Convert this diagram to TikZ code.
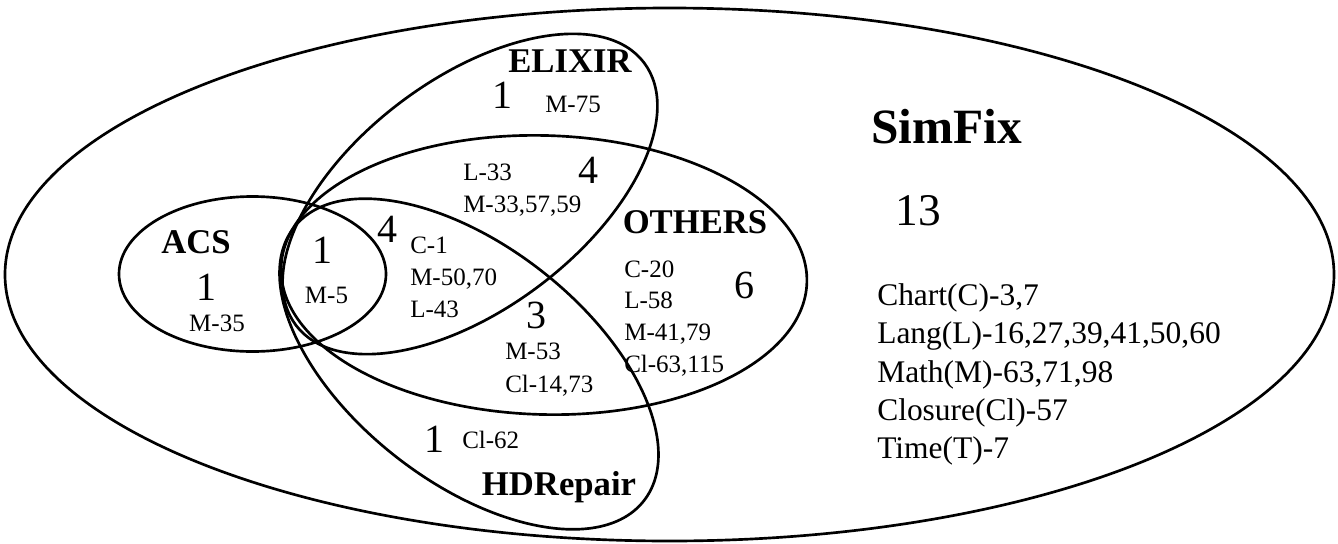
\documentclass[tikz,border=0pt]{standalone}
\usepackage{fontspec}
\setmainfont{Liberation Serif}
\begin{document}
\begin{tikzpicture}[x=0.75pt,y=-0.75pt,
  ring/.style={draw=black,line width=2pt},
  small/.style={inner sep=0pt,font=\fontsize{18.75}{20}\selectfont},
  cnt/.style={inner sep=0pt,font=\fontsize{30}{32}\selectfont},
  lab/.style={inner sep=0pt,font=\bfseries\fontsize{26}{28}\selectfont},
  lst/.style={inner sep=0pt,anchor=base west,font=\fontsize{23.6}{26}\selectfont}]
\useasboundingbox (0,0) rectangle (1338,543);
% sets
\draw[ring] (669.5,274.5) ellipse [x radius=664.5, y radius=266.5];
\draw[ring] (252.5,274) ellipse [x radius=133.5, y radius=77.5];
\draw[ring,rotate around={-1.6:(544,275)}] (544,275) ellipse [x radius=263, y radius=139.5];
\draw[ring,rotate around={37:(470,194)}] (470,194) ellipse [x radius=218, y radius=115];
\draw[ring,rotate around={-38:(469,364)}] (469,364) ellipse [x radius=222, y radius=118];
% labels
\node[lab,anchor=base] (acs) at (196,253) {ACS};
\node[lab,anchor=base] (elixir) at (570,72) {ELIXIR};
\node[lab,anchor=base] (others) at (695,233) {OTHERS};
\node[lab,anchor=base] (hdrepair) at (559,495) {HDRepair};
\node[inner sep=0pt,anchor=base,font=\bfseries\fontsize{37}{40}\selectfont] (simfix) at (946.5,143) {SimFix};
% ACS only
\node[cnt,anchor=base] (nacs) at (206,300) {1};
\node[small,anchor=base] (tacs) at (217,331) {M-35};
% all
\node[cnt,anchor=base] (nall) at (322.5,263) {1};
\node[small,anchor=base] (tall) at (326.5,303) {M-5};
% ELIXIR & OTHERS & HDRepair
\node[cnt,anchor=base] (neoh) at (387,242) {4};
\node[small,anchor=base west] (teoh1) at (410,253) {C-1};
\node[small,anchor=base west] (teoh2) at (410,285) {M-50,70};
\node[small,anchor=base west] (teoh3) at (410,317) {L-43};
% OTHERS & HDRepair
\node[cnt,anchor=base] (noh) at (536.5,328) {3};
\node[small,anchor=base west] (toh1) at (505,359) {M-53};
\node[small,anchor=base west] (toh2) at (505,392) {Cl-14,73};
% HDRepair only
\node[cnt,anchor=base] (nh) at (434,452) {1};
\node[small,anchor=base west] (th) at (462,448) {Cl-62};
% ELIXIR only
\node[cnt,anchor=base] (ne) at (502,108) {1};
\node[small,anchor=base west] (te) at (545,112) {M-75};
% ELIXIR & OTHERS
\node[small,anchor=base west] (teo1) at (463,180) {L-33};
\node[cnt,anchor=base] (neo) at (588,183) {4};
\node[small,anchor=base west] (teo2) at (463,212) {M-33,57,59};
% OTHERS only
\node[small,anchor=base west] (to1) at (624,277) {C-20};
\node[small,anchor=base west] (to2) at (624,308) {L-58};
\node[small,anchor=base west] (to3) at (624,340) {M-41,79};
\node[small,anchor=base west] (to4) at (624,372) {Cl-63,115};
\node[cnt,anchor=base] (no) at (744,298) {6};
% SimFix only
\node[inner sep=0pt,anchor=base,font=\fontsize{34}{36}\selectfont] (ns) at (918.5,225) {13};
\node[lst] (l1) at (877,305) {Chart(C)-3,7};
\node[lst] (l2) at (877,343) {Lang(L)-16,27,39,41,50,60};
\node[lst] (l3) at (877,382) {Math(M)-63,71,98};
\node[lst] (l4) at (877,420) {Closure(Cl)-57};
\node[lst] (l5) at (877,458) {Time(T)-7};
\end{tikzpicture}
\end{document}
